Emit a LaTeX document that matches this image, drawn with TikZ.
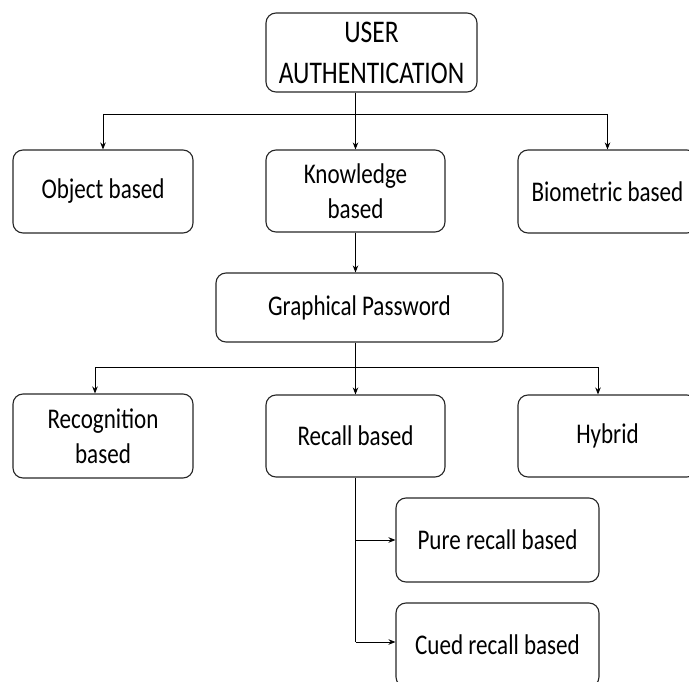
\documentclass[tikz,border=0pt]{standalone}
\usepackage{fontspec}
\setmainfont{Carlito}[FakeStretch=0.81]
\usetikzlibrary{arrows.meta}
\tikzset{
  box/.style={draw=black!85, line width=1.1pt, rounded corners=10pt, inner sep=0pt, align=center,
    font=\fontsize{28.5}{35}\selectfont},
  topbox/.style={box, font=\fontsize{31.5}{41}\selectfont},
  conn/.style={draw=black, line width=0.9pt},
  arr/.style={conn, -{Stealth[length=7pt,width=5.5pt]}}
}
\begin{document}
\begin{tikzpicture}[x=1pt,y=-1pt]
\useasboundingbox (0,0) rectangle (689,682);
% boxes
\node[topbox, minimum width=211pt, minimum height=79pt] (top) at (371.5,52.5) {USER\\AUTHENTICATION};
\node[box, minimum width=180pt, minimum height=83pt] (obj) at (103,191.5) {Object based};
\node[box, minimum width=179pt, minimum height=82pt] (kn) at (355.5,191) {Knowledge\\based};
\node[box, minimum width=179pt, minimum height=83pt] (bio) at (607.5,191.5) {Biometric based};
\node[box, minimum width=287pt, minimum height=69pt] (gp) at (359.5,307.5) {Graphical Password};
\node[box, minimum width=180pt, minimum height=84pt] (rec) at (103,436) {Recognition\\based};
\node[box, minimum width=179pt, minimum height=82pt] (rc) at (355.5,436) {Recall based};
\node[box, minimum width=179pt, minimum height=82pt] (hy) at (607.5,436) {Hybrid};
\node[box, minimum width=203pt, minimum height=84pt] (pure) at (497.5,540) {Pure recall based};
\node[box, minimum width=203pt, minimum height=84pt] (cued) at (497.5,645) {Cued recall based};
% level 1 connectors
\coordinate (h1) at (0,114);
\draw[conn] (h1 -| obj) -- (h1 -| bio);
\draw[arr] (top.south -| kn) -- (kn.north);
\draw[arr] (h1 -| obj) -- (obj.north);
\draw[arr] (h1 -| bio) -- (bio.north);
% knowledge to graphical
\draw[arr] (kn.south) -- (kn.south |- gp.north);
% level 2 connectors
\coordinate (d1) at (95,367);
\coordinate (d3) at (598,367);
\draw[conn] (d1) -- (d3);
\draw[conn] (gp.south -| rc) -- (rc |- d1);
\draw[arr] (rc |- d1) -- (rc.north);
\draw[arr] (d1) -- (d1 |- rec.north);
\draw[arr] (d3) -- (d3 |- hy.north);
% recall branch
\coordinate (c2) at (355.5,642);
\draw[conn] (rc.south) -- (c2);
\draw[arr] (rc.south |- pure.west) -- (pure.west);
\draw[arr] (c2) -- (c2 -| cued.west);
\end{tikzpicture}
\end{document}
